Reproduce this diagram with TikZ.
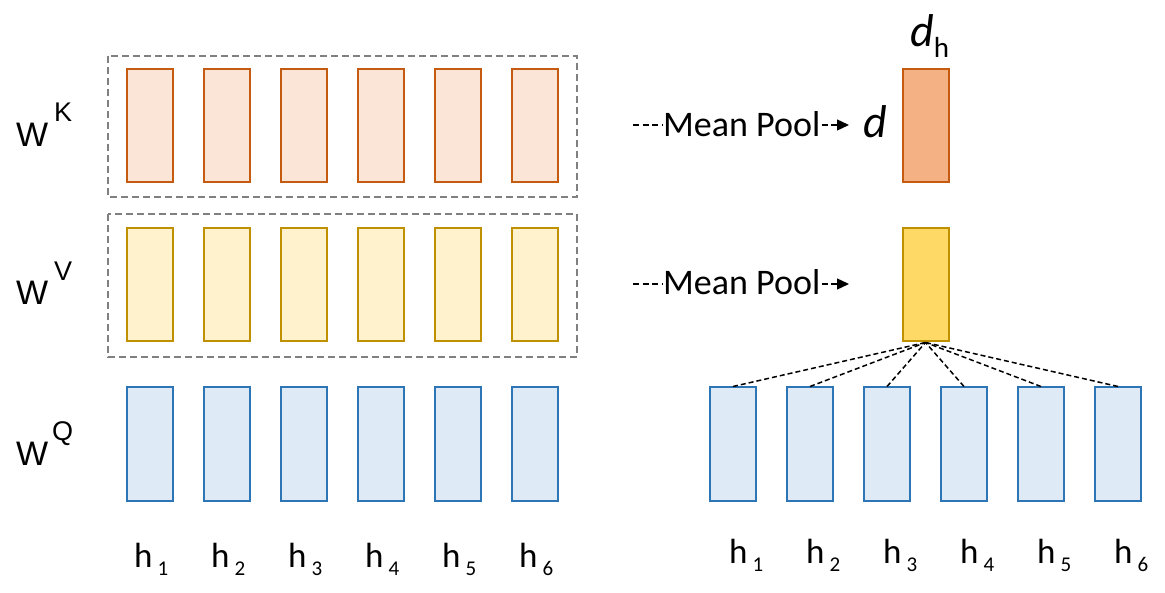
\documentclass[tikz,border=0pt]{standalone}
\usepackage{fontspec}
\setmainfont{Carlito}
\newfontfamily\arialf{Liberation Sans}
\usetikzlibrary{arrows.meta}
\definecolor{kstroke}{HTML}{C55A11}
\definecolor{kfill}{HTML}{FBE5D6}
\definecolor{kfilldark}{HTML}{F4B183}
\definecolor{vstroke}{HTML}{BF9000}
\definecolor{vfill}{HTML}{FFF2CC}
\definecolor{vfilldark}{HTML}{FFD966}
\definecolor{qstroke}{HTML}{2E75B6}
\definecolor{qfill}{HTML}{DEEBF7}
\definecolor{boxgray}{HTML}{808080}
\tikzset{
  cell/.style={rectangle, line width=2pt, minimum width=46pt, minimum height=113pt, inner sep=0pt},
  kcell/.style={cell, draw=kstroke, fill=kfill},
  kcelldark/.style={cell, draw=kstroke, fill=kfilldark},
  vcell/.style={cell, draw=vstroke, fill=vfill},
  vcelldark/.style={cell, draw=vstroke, fill=vfilldark},
  qcell/.style={cell, draw=qstroke, fill=qfill},
  groupbox/.style={draw=boxgray, line width=1.2pt, dash pattern=on 7pt off 4pt},
  poolline/.style={line width=1.3pt, dash pattern=on 6pt off 3.5pt},
  fanline/.style={line width=1.5pt, dash pattern=on 5pt off 3pt},
  wlab/.style={inner sep=0pt, anchor=base west, font=\arialf\fontsize{34}{34}\selectfont},
  wsup/.style={inner sep=0pt, anchor=base west, font=\arialf\fontsize{27}{27}\selectfont},
  hlab/.style={inner sep=0pt, anchor=base west, font=\fontsize{35}{35}\selectfont},
  pooltext/.style={inner sep=0pt, anchor=base west, font=\fontsize{36}{36}\selectfont},
  dlab/.style={inner sep=0pt, anchor=base west, font=\itshape\fontsize{46}{46}\selectfont},
}
\newcommand{\hsub}[1]{h\hspace{5pt}\raisebox{-8pt}{\fontsize{21}{21}\selectfont #1}}
\begin{document}
\begin{tikzpicture}[x=1pt, y=-1pt]
\useasboundingbox (0,0) rectangle (1165,593);
% dashed group boxes
\draw[groupbox] (108,56) rectangle (577,197);
\draw[groupbox] (108,214) rectangle (577,357);
% left cells
\foreach \i in {1,...,6} {
  \pgfmathsetmacro{\cx}{149.5+77*(\i-1)}
  \node[kcell] (k\i) at (\cx,125.5) {};
  \node[vcell] (v\i) at (\cx,285) {};
  \node[qcell] (q\i) at (\cx,444) {};
  \pgfmathsetmacro{\lx}{134+77*(\i-1)}
  \node[hlab] (hl\i) at (\lx,567) {\hsub{\i}};
}
% row labels
\node[wlab] (wk) at (16,147) {W};
\node[wsup] (wks) at (54,122) {K};
\node[wlab] (wv) at (16,305) {W};
\node[wsup] (wvs) at (54,280.5) {V};
\node[wlab] (wq) at (16,465) {W};
\node[wsup] (wqs) at (52,441) {Q};
% right cells
\node[kcelldark] (kp) at (925.5,125.7) {};
\node[vcelldark] (vp) at (925.5,285) {};
\foreach \i in {1,...,6} {
  \pgfmathsetmacro{\cx}{733+77*(\i-1)}
  \node[qcell] (rq\i) at (\cx,444) {};
  \pgfmathsetmacro{\lx}{729+77*(\i-1)}
  \node[hlab] (hr\i) at (\lx,563) {\hsub{\i}};
  \draw[fanline] (rq\i.north) -- (vp.south);
}
% mean pool rows
\node[pooltext] (mp1) at (663,137) {Mean Pool};
\coordinate (mp1s) at (633,125);
\coordinate (mp1e) at (849,125);
\draw[poolline] (mp1s) -- (mp1.west |- mp1s);
\draw[poolline, -{Triangle[length=12pt, width=11pt]}] (mp1.east |- mp1e) ++(1,0) -- (mp1e);
\node[pooltext] (mp2) at (663,295) {Mean Pool};
\coordinate (mp2s) at (633,284);
\coordinate (mp2e) at (849,284);
\draw[poolline] (mp2s) -- (mp2.west |- mp2s);
\draw[poolline, -{Triangle[length=12pt, width=11pt]}] (mp2.east |- mp2e) ++(1,0) -- (mp2e);
% dimension labels
\node[dlab] (dlab) at (863,138) {d};
\node[dlab] (dhlab) at (910,47) {d\raisebox{-11pt}{\upshape\fontsize{29}{29}\selectfont h}};
\end{tikzpicture}
\end{document}
